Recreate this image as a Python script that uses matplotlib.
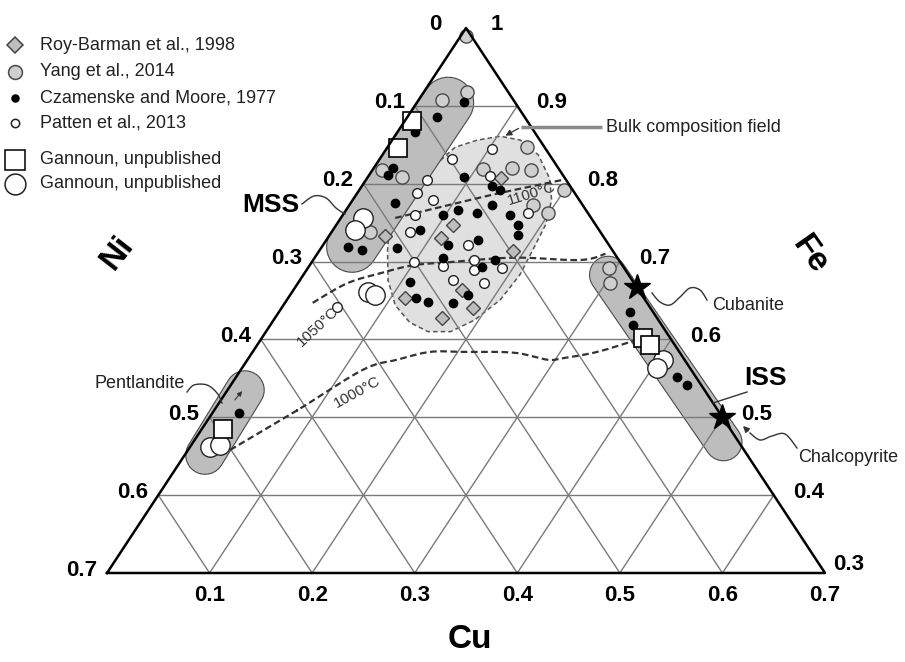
import numpy as np
import matplotlib
matplotlib.use('Agg')
import matplotlib.pyplot as plt
from matplotlib.patches import Polygon

plt.rcParams['font.family'] = ['Liberation Sans', 'DejaVu Sans']

# compositions as (Cu, Fe) fractions, Ni = 1 - Cu - Fe
roy_cu = [0.055, 0.111, 0.114, 0.131, 0.189, 0.114, 0.164, 0.187, 0.163]
roy_fe = [0.733, 0.730, 0.747, 0.807, 0.714, 0.653, 0.664, 0.640, 0.628]

yang_cu = [0.005, 0.042, 0.023, 0.009, 0.033, 0.136, 0.107, 0.135, 0.154, 0.200,
           0.199, 0.179, 0.037, 0.293, 0.304]
yang_fe = [0.990, 0.918, 0.907, 0.818, 0.809, 0.847, 0.819, 0.820, 0.818, 0.792,
           0.762, 0.773, 0.738, 0.692, 0.672]

cz_cu = [0.046, 0.029, 0.017, 0.019, 0.018, 0.043, 0.094, 0.137, 0.127, 0.025,
         0.041, 0.074, 0.085, 0.098, 0.109, 0.130, 0.122, 0.139, 0.163, 0.177,
         0.184, 0.148, 0.125, 0.169, 0.177, 0.108, 0.125, 0.139, 0.173, 0.164,
         0.342, 0.353, 0.430, 0.445, 0.026]
cz_fe = [0.905, 0.886, 0.866, 0.820, 0.811, 0.775, 0.809, 0.792, 0.797, 0.719,
         0.715, 0.717, 0.741, 0.760, 0.766, 0.762, 0.721, 0.773, 0.760, 0.747,
         0.734, 0.728, 0.705, 0.693, 0.702, 0.674, 0.653, 0.648, 0.657, 0.647,
         0.635, 0.619, 0.552, 0.541, 0.505]

pat_cu = [0.070, 0.059, 0.058, 0.078, 0.103, 0.118, 0.076, 0.070, 0.179, 0.141,
          0.100, 0.131, 0.157, 0.163, 0.189, 0.149, 0.182, 0.053]
pat_fe = [0.832, 0.805, 0.788, 0.779, 0.845, 0.810, 0.738, 0.760, 0.762, 0.721,
          0.699, 0.694, 0.702, 0.689, 0.692, 0.676, 0.672, 0.642]

gsq_cu = [0.007, 0.011, 0.021, 0.372, 0.383]
gsq_fe = [0.880, 0.846, 0.485, 0.602, 0.593]

gci_cu = [0.0215, 0.0215, 0.074, 0.083, 0.405, 0.405, 0.0195, 0.028]
gci_fe = [0.756, 0.740, 0.661, 0.657, 0.574, 0.563, 0.462, 0.464]

mineral_names = ['Cubanite', 'Chalcopyrite']
mineral_cu = [0.333, 0.500]
mineral_fe = [0.667, 0.500]

# fields: centre line ends (MSS, ISS, pentlandite) and bulk composition outline
mss_cu, mss_fe = [0.0306, 0.0295], [0.904, 0.719]
iss_cu, iss_fe = [0.297, 0.517], [0.683, 0.468]
pn_cu, pn_fe = [0.017, 0.0198], [0.535, 0.4515]
bulk_cu = [0.060, 0.066, 0.083, 0.103, 0.125, 0.152, 0.178, 0.194, 0.204, 0.207,
           0.211, 0.208, 0.196, 0.180, 0.158, 0.134, 0.109, 0.086, 0.066, 0.052,
           0.046, 0.052]
bulk_fe = [0.830, 0.847, 0.856, 0.861, 0.856, 0.837, 0.807, 0.779, 0.747, 0.721,
           0.683, 0.651, 0.625, 0.610, 0.610, 0.622, 0.644, 0.676, 0.715, 0.747,
           0.779, 0.807]

# isotherms
t1100_cu = [0.053, 0.098, 0.139, 0.192]
t1100_fe = [0.756, 0.773, 0.788, 0.805]
t1050_cu = [0.027, 0.048, 0.074, 0.100, 0.132, 0.194, 0.260, 0.281]
t1050_fe = [0.647, 0.672, 0.685, 0.695, 0.699, 0.705, 0.702, 0.710]
t1000_cu = [0.041, 0.081, 0.119, 0.146, 0.173, 0.205, 0.255, 0.292, 0.307, 0.336, 0.364]
t1000_fe = [0.458, 0.509, 0.561, 0.574, 0.584, 0.584, 0.583, 0.574, 0.576, 0.584, 0.598]

ticks = [0.1, 0.2, 0.3, 0.4, 0.5, 0.6, 0.7]


def tern(cu, fe):
    cu = np.asarray(cu, float)
    fe = np.asarray(fe, float)
    return cu + (fe - 0.3) / 2, fe - 0.3


def smooth(pts, n=14):
    p = np.array(pts, float)
    p = np.vstack([p[0], p, p[-1]])
    t = np.linspace(0, 1, n)[:, None]
    out = []
    for i in range(1, len(p) - 2):
        p0, p1, p2, p3 = p[i - 1], p[i], p[i + 1], p[i + 2]
        out.append(0.5 * (2 * p1 + (-p0 + p2) * t + (2 * p0 - 5 * p1 + 4 * p2 - p3) * t ** 2
                          + (-p0 + 3 * p1 - 3 * p2 + p3) * t ** 3))
    return np.vstack(out)


fig = plt.figure(figsize=(9.05, 6.62), dpi=100)
ax = fig.add_axes([107 / 905, 89 / 662, 718 / 905, 545 / 662])
ax.set_xlim(0, 0.7)
ax.set_ylim(0, 0.7)
ax.axis('off')

# bulk composition field
bx, by = tern(bulk_cu, bulk_fe)
ax.add_patch(Polygon(np.column_stack([bx, by]), closed=True, facecolor='#e0e0e0',
                     edgecolor='#555555', lw=1.1, ls=(0, (3, 2)), zorder=1))

# capsule fields
for cu, fe, w in [(mss_cu, mss_fe, 36), (iss_cu, iss_fe, 26), (pn_cu, pn_fe, 27)]:
    x, y = tern(cu, fe)
    ax.plot(x, y, color='#4a4a4a', lw=w + 1.6, solid_capstyle='round', zorder=1.2)
    ax.plot(x, y, color='#bdbdbd', lw=w, solid_capstyle='round', zorder=1.3)

# grid
gcol = '#7a7a7a'
for v in [0.1, 0.2, 0.3, 0.4, 0.5, 0.6]:
    f = 0.3 + v
    x, y = tern([0, 1 - f], [f, f])
    ax.plot(x, y, color=gcol, lw=1.0, zorder=2)
    x, y = tern([v, v], [0.3, 1 - v])
    ax.plot(x, y, color=gcol, lw=1.0, zorder=2)
    x, y = tern([0.7 - v, 0], [0.3, 1 - v])
    ax.plot(x, y, color=gcol, lw=1.0, zorder=2)

# isotherms
for cu, fe in [(t1100_cu, t1100_fe), (t1050_cu, t1050_fe), (t1000_cu, t1000_fe)]:
    x, y = tern(cu, fe)
    s = smooth(np.column_stack([x, y]))
    ax.plot(s[:, 0], s[:, 1], color='#333333', lw=1.6, ls=(0, (3, 1.6)), zorder=3)

# triangle
x, y = tern([0, 0.7, 0, 0], [0.3, 0.3, 1, 0.3])
ax.plot(x, y, color='black', lw=1.8, zorder=8, clip_on=False)

# data points
x, y = tern(yang_cu, yang_fe)
ax.plot(x, y, 'o', ms=9.5, mfc='#cfcfcf', mec='#4a4a4a', mew=1.0, ls='none', zorder=4, clip_on=False)
x, y = tern(roy_cu, roy_fe)
ax.plot(x, y, 'D', ms=7.5, mfc='#bdbdbd', mec='#444444', mew=1.0, ls='none', zorder=4.2, clip_on=False)
x, y = tern(pat_cu, pat_fe)
ax.plot(x, y, 'o', ms=7, mfc='white', mec='#222222', mew=1.0, ls='none', zorder=4.4, clip_on=False)
x, y = tern(cz_cu, cz_fe)
ax.plot(x, y, 'o', ms=6, mfc='black', mec='black', ls='none', zorder=4.6, clip_on=False)
x, y = tern(gci_cu, gci_fe)
ax.plot(x, y, 'o', ms=14, mfc='white', mec='#222222', mew=1.0, ls='none', zorder=5, clip_on=False)
x, y = tern(gsq_cu, gsq_fe)
ax.plot(x, y, 's', ms=13, mfc='white', mec='black', mew=1.2, ls='none', zorder=5.5, clip_on=False)
x, y = tern(mineral_cu, mineral_fe)
ax.plot(x, y, '*', ms=19, mfc='black', mec='black', ls='none', zorder=9, clip_on=False)

# tick labels
tk = dict(fontsize=16, fontweight='bold', textcoords='offset pixels', annotation_clip=False)
for c in ticks:
    ax.annotate(f'{c:.1f}', tern(c, 0.3), xytext=(0, -12), ha='center', va='top', **tk)
    ax.annotate(f'{c:.1f}', tern(0, 1 - c), xytext=(-10, 3), ha='right', va='center', **tk)
for f in [0.9, 0.8, 0.7, 0.6, 0.5, 0.4]:
    ax.annotate(f'{f:.1f}', tern(1 - f, f), xytext=(19, 3), ha='left', va='center', **tk)
ax.annotate('0.3', tern(0.7, 0.3), xytext=(8, 8), ha='left', va='center', **tk)
ax.annotate('0', tern(0, 1), xytext=(-31, 4), ha='center', va='center', **tk)
ax.annotate('1', tern(0, 1), xytext=(31, 4), ha='center', va='center', **tk)

# overlay in pixel coordinates for labels, leaders and legend
ov = fig.add_axes([0, 0, 1, 1])
ov.set_xlim(0, 905)
ov.set_ylim(662, 0)
ov.axis('off')
ov.patch.set_alpha(0)

ov.text(470, 640, 'Cu', fontsize=24, fontweight='bold', ha='center', va='center')
ov.text(117, 253, 'Ni', fontsize=24, fontweight='bold', ha='center', va='center', rotation=52)
ov.text(810, 255, 'Fe', fontsize=24, fontweight='bold', ha='center', va='center', rotation=-55)
ov.text(271, 205, 'MSS', fontsize=19, fontweight='bold', ha='center', va='center')
ov.text(765, 378, 'ISS', fontsize=19, fontweight='bold', ha='center', va='center')
ov.text(748, 305, mineral_names[0], fontsize=13, ha='center', va='center', color='#222222')
ov.text(848, 457, mineral_names[1], fontsize=13, ha='center', va='center', color='#222222')
ov.text(140, 384, 'Pentlandite', fontsize=13, ha='center', va='center', color='#222222')
ov.text(606, 127, 'Bulk composition field', fontsize=13, ha='left', va='center', color='#222222')

ov.text(532, 194, '1100°C', fontsize=11, ha='center', va='center', rotation=17, color='#333333')
ov.text(318, 327, '1050°C', fontsize=11, ha='center', va='center', rotation=43, color='#333333')
ov.text(357, 392, '1000°C', fontsize=11, ha='center', va='center', rotation=29, color='#333333')

lead = dict(color='#333333', lw=1.0)
for pts in [[(302, 204), (314, 196), (326, 198), (336, 208), (345, 214)],
            [(707, 300), (700, 290), (690, 288), (680, 297), (670, 305), (660, 302), (652, 293)],
            [(797, 448), (785, 434), (772, 436), (760, 440), (750, 433)],
            [(187, 392), (194, 385), (207, 385), (217, 393), (222, 403)]]:
    s = smooth(pts)
    ov.plot(s[:, 0], s[:, 1], **lead)
ov.annotate('', xy=(741, 424), xytext=(750, 433),
            arrowprops=dict(arrowstyle='-|>', color='#333333', lw=1.0, mutation_scale=9))
ov.plot([747, 713], [392, 403], **lead)
ov.annotate('', xy=(244, 389), xytext=(233, 402),
            arrowprops=dict(arrowstyle='-|>', color='#333333', lw=0.8, mutation_scale=7))
ov.plot([602, 521], [127, 127], color='#8a8a8a', lw=2.5, solid_capstyle='butt')
ov.annotate('', xy=(503, 137), xytext=(521, 127),
            arrowprops=dict(arrowstyle='-|>', color='#333333', lw=0.9, mutation_scale=9))

# legend
leg = [('D', 8.5, '#bdbdbd', '#444444', 'Roy-Barman et al., 1998', 45),
       ('o', 10, '#cfcfcf', '#4a4a4a', 'Yang et al., 2014', 72),
       ('o', 5, 'black', 'black', 'Czamenske and Moore, 1977', 98),
       ('o', 6, 'white', '#222222', 'Patten et al., 2013', 123),
       ('s', 14, 'white', 'black', 'Gannoun, unpublished', 160),
       ('o', 15, 'white', '#222222', 'Gannoun, unpublished', 184)]
for m, ms, fc, ec, lab, yy in leg:
    ov.plot([15], [yy], m, ms=ms, mfc=fc, mec=ec, mew=1.1, clip_on=False)
    ov.text(40, yy, lab, fontsize=13, ha='left', va='center', color='#222222')

fig.savefig('out.png', dpi=100)
